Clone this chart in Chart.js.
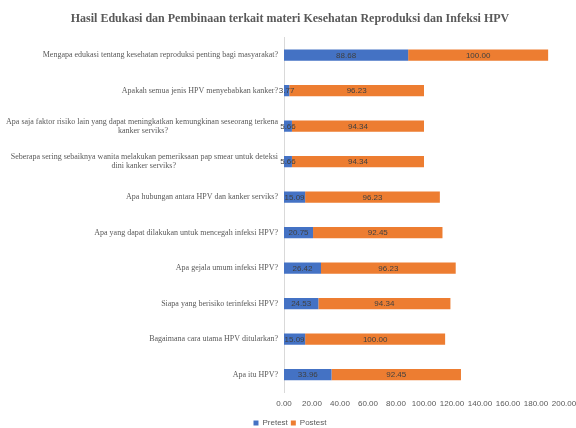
<!DOCTYPE html>
<html>
<head>
<meta charset="utf-8">
<script src="https://cdn.jsdelivr.net/npm/chart.js@4.4.0/dist/chart.umd.min.js"></script>
<style>
  body { margin: 0; background: #fff; }
  #wrap { width: 576px; height: 428px; }
</style>
</head>
<body>
<div id="wrap"><canvas id="chart"></canvas></div>
<script>
// questions, top to bottom
const questions = [
  ['Mengapa edukasi tentang kesehatan reproduksi penting bagi masyarakat?'],
  ['Apakah semua jenis HPV menyebabkan kanker?'],
  ['Apa saja faktor risiko lain yang dapat meningkatkan kemungkinan seseorang terkena', 'kanker serviks?'],
  ['Seberapa sering sebaiknya wanita melakukan pemeriksaan pap smear untuk deteksi', 'dini kanker serviks?'],
  ['Apa hubungan antara HPV dan kanker serviks?'],
  ['Apa yang dapat dilakukan untuk mencegah infeksi HPV?'],
  ['Apa gejala umum infeksi HPV?'],
  ['Siapa yang berisiko terinfeksi HPV?'],
  ['Bagaimana cara utama HPV ditularkan?'],
  ['Apa itu HPV?']
];
const pretest = [88.68, 3.77, 5.66, 5.66, 15.09, 20.75, 26.42, 24.53, 15.09, 33.96];
const postest = [100.00, 96.23, 94.34, 94.34, 96.23, 92.45, 96.23, 94.34, 100.00, 92.45];
const xTicks = [0, 20, 40, 60, 80, 100, 120, 140, 160, 180, 200];

const grey = '#595959';
const serif = '"Liberation Serif", "Times New Roman", serif';
const sans = '"Liberation Sans", Arial, sans-serif';

// writes the value in the middle of each bar
const barValues = {
  id: 'barValues',
  afterDatasetsDraw(chart) {
    const ctx = chart.ctx;
    ctx.save();
    ctx.font = '8px ' + sans;
    ctx.fillStyle = '#404040';
    ctx.textAlign = 'center';
    ctx.textBaseline = 'middle';
    chart.data.datasets.forEach((ds, i) => {
      chart.getDatasetMeta(i).data.forEach((bar, j) => {
        const p = bar.getCenterPoint();
        ctx.fillText(ds.data[j].toFixed(2), p.x, p.y + 0.5);
      });
    });
    ctx.restore();
  }
};

// second lines of wrapped labels sit centred under the first one,
// so pad them on the right with spaces (labels are right aligned)
function centreLines(value) {
  const lines = questions[value];
  if (lines.length < 2) return lines;
  const ctx = this.ctx;
  ctx.save();
  ctx.font = '8px ' + serif;
  const w0 = ctx.measureText(lines[0]).width;
  const sp = ctx.measureText(' ').width;
  const out = lines.map((l, i) => {
    if (i === 0) return l;
    const n = Math.round((w0 - ctx.measureText(l).width) / 2 / sp);
    return l + ' '.repeat(Math.max(0, n));
  });
  ctx.restore();
  return out;
}

new Chart(document.getElementById('chart'), {
  type: 'bar',
  data: {
    labels: questions,
    datasets: [
      { label: 'Pretest', data: pretest, backgroundColor: '#4472C4', borderWidth: 0 },
      { label: 'Postest', data: postest, backgroundColor: '#ED7D31', borderWidth: 0 }
    ]
  },
  options: {
    indexAxis: 'y',
    responsive: true,
    maintainAspectRatio: false,
    animation: false,
    layout: { padding: { left: 4, right: 0, top: 0, bottom: -9 } },
    datasets: { bar: { categoryPercentage: 1, barPercentage: 0.32 } },
    scales: {
      x: {
        stacked: true,
        min: 0,
        max: 200,
        afterBuildTicks(s) { s.ticks = xTicks.map(v => ({ value: v })); },
        afterFit(s) { s.paddingLeft = 0; s.paddingRight = 12; },
        grid: { display: false, drawTicks: false },
        border: { display: false },
        ticks: {
          padding: 7,
          color: grey,
          maxRotation: 0,
          autoSkip: false,
          font: { family: sans, size: 8 },
          callback: v => v.toFixed(2)
        }
      },
      y: {
        stacked: true,
        grid: { display: false, drawTicks: false },
        border: { display: true, color: '#d9d9d9' },
        afterFit(s) { s.width = 280; },
        ticks: {
          padding: 6,
          color: grey,
          autoSkip: false,
          font: { family: serif, size: 8, lineHeight: 1.15 },
          callback: centreLines
        }
      }
    },
    plugins: {
      title: {
        display: true,
        text: 'Hasil Edukasi dan Pembinaan terkait materi Kesehatan Reproduksi dan Infeksi HPV',
        color: grey,
        font: { family: serif, size: 12, weight: 'bold' },
        padding: { top: 12, bottom: 11 }
      },
      legend: {
        position: 'bottom',
        labels: {
          color: grey,
          boxWidth: 5,
          boxHeight: 5,
          padding: 3,
          font: { family: sans, size: 8 }
        }
      },
      tooltip: { enabled: false }
    }
  },
  plugins: [barValues]
});
</script>
</body>
</html>
